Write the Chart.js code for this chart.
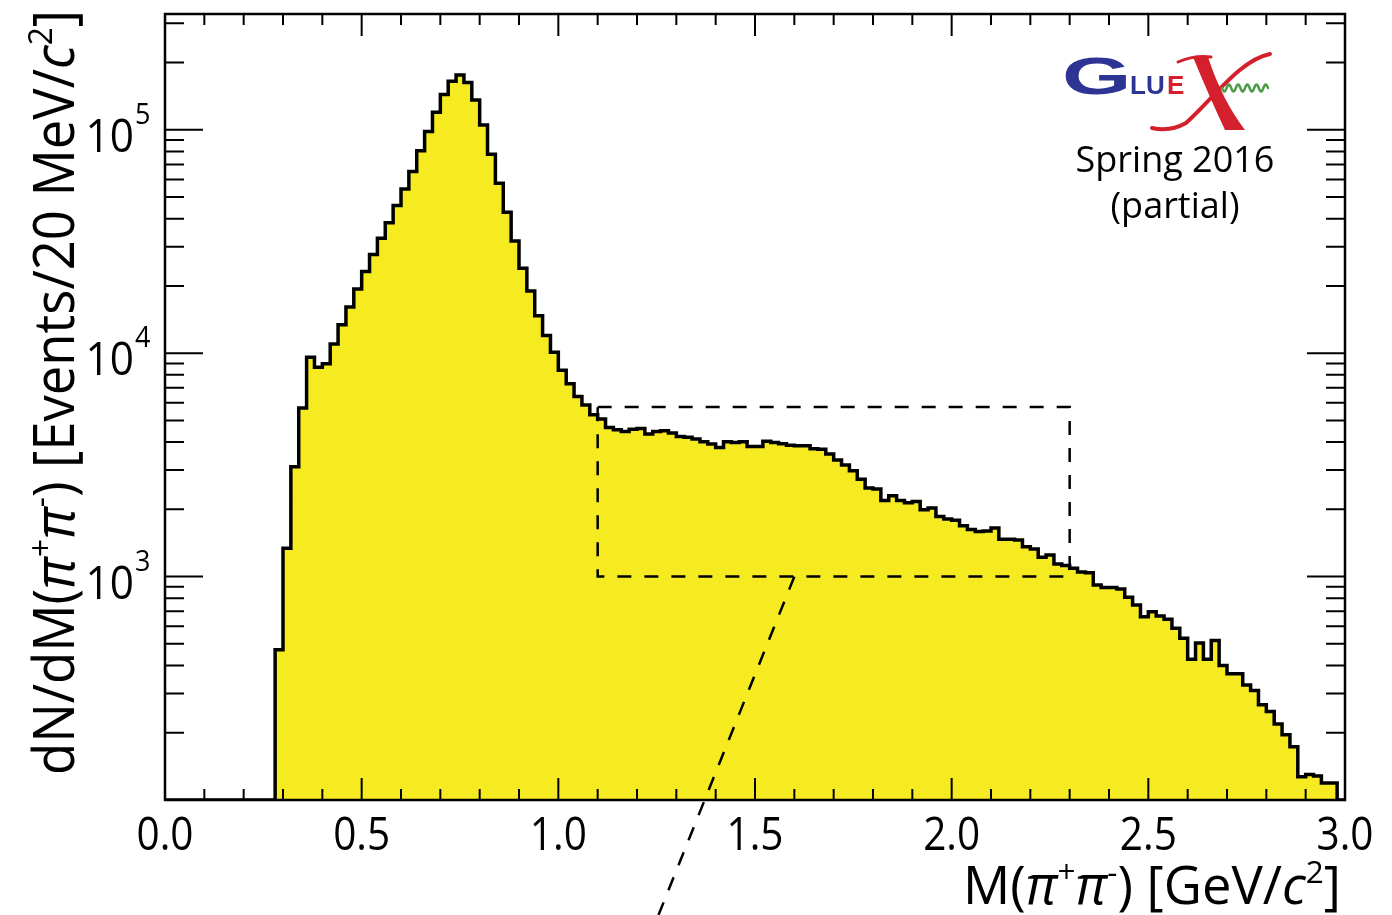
<!DOCTYPE html>
<html>
<head>
<meta charset="utf-8">
<title>M(π+π-) spectrum</title>
<script src="https://cdn.jsdelivr.net/npm/chart.js@4.4.1/dist/chart.umd.min.js"></script>
<style>
  html, body { margin: 0; padding: 0; background: #fff; }
  canvas { display: block; }
</style>
</head>
<body>
<canvas id="massChart" width="1392" height="915"></canvas>
<script>
// pi+ pi- invariant mass, 20 MeV bins from 0 to 3 GeV (150 bins)
const BIN_WIDTH = 0.02;
const counts = [
  0, 0, 0, 0, 0, 0, 0, 0, 0, 0,
  0, 0, 0, 0, 470, 1340, 3100, 5680, 9600, 8650,
  8960, 11000, 13400, 16100, 19400, 23200, 27700, 32700, 38400, 45800,
  54400, 65000, 80500, 98200, 120000, 144000, 165000, 176000, 163000, 136000,
  105000, 77800, 57700, 42800, 31800, 24000, 19000, 14700, 12000, 10100,
  8400, 7300, 6400, 5870, 5300, 5070, 4650, 4540, 4460, 4570,
  4600, 4350, 4460, 4500, 4390, 4240, 4210, 4130, 4020, 3920,
  3780, 4010, 3980, 4010, 3820, 3820, 4040, 3980, 3930, 3870,
  3850, 3850, 3740, 3720, 3540, 3330, 3160, 2980, 2730, 2490,
  2470, 2190, 2300, 2190, 2140, 2170, 1990, 2030, 1860, 1810,
  1790, 1690, 1625, 1590, 1600, 1650, 1470, 1470, 1460, 1360,
  1330, 1220, 1250, 1140, 1120, 1090, 1050, 1040, 918, 893,
  893, 879, 809, 747, 662, 697, 667, 644, 587, 530,
  427, 504, 427, 517, 400, 367, 367, 327, 309, 267,
  249, 219, 196, 173, 127, 130, 128, 119, 119, 0
];

const X_MIN = 0, X_MAX = 3.0;
const Y_MIN = 100, Y_MAX = 3.3e5;

const xMajorTicks = [0, 0.5, 1.0, 1.5, 2.0, 2.5, 3.0];
const xTickLabels = ['0.0', '0.5', '1.0', '1.5', '2.0', '2.5', '3.0'];
const X_MINOR_STEP = 0.1;
const yDecades = [1e3, 1e4, 1e5];
const yExponents = ['3', '4', '5'];

// dashed selection box and the pointer leaving it
const boxX = [1.1, 2.3];
const boxY = [1000, 5750];
const pointerStart = { x: 1.6, y: 1000 };
const pointerAtAxis = { x: 1.372, y: 100 };

const FONT = '"Open Sans", "Noto Sans", sans-serif';
const FILL_YELLOW = '#F5EB20';

// left bin edges + closing point; empty bins sit on the axis floor
const histPoints = counts.map((c, i) => ({ x: i * BIN_WIDTH, y: Math.max(c, Y_MIN) }));
histPoints.push({ x: X_MAX, y: Math.max(counts[counts.length - 1], Y_MIN) });

// draws a run of text pieces (plain / italic / superscript), squeezed to a width if given
function drawRich(ctx, segs, size, x, y, align, width) {
  const parts = segs.map(s => {
    const fs = s.sup ? size * 0.6 : size;
    const font = (s.it ? 'italic ' : '') + fs + 'px ' + FONT;
    ctx.font = font;
    return { text: s.t, font, dy: s.sup ? -size * 0.4 : 0, w: ctx.measureText(s.t).width };
  });
  const natural = parts.reduce((acc, p) => acc + p.w, 0);
  const sx = width ? width / natural : 1;
  ctx.save();
  ctx.translate(x, y);
  ctx.scale(sx, 1);
  let cx = align === 'right' ? -natural : align === 'center' ? -natural / 2 : 0;
  ctx.textAlign = 'left';
  ctx.textBaseline = 'alphabetic';
  for (const p of parts) {
    ctx.font = p.font;
    ctx.fillText(p.text, cx, p.dy);
    cx += p.w;
  }
  ctx.restore();
}

function drawLogo(ctx) {
  const blue = '#2D3494', red = '#D41F2D', green = '#4C9B45';
  ctx.save();
  // G
  ctx.fillStyle = blue;
  ctx.save();
  ctx.translate(1062, 94);
  ctx.scale(1.75, 1);
  ctx.font = 'bold 51px "Liberation Sans", sans-serif';
  ctx.fillText('G', 0, 0);
  ctx.restore();
  ctx.font = 'bold 26px "Liberation Sans", sans-serif';
  ctx.fillText('LU', 1130, 94);
  ctx.fillStyle = red;
  ctx.fillText('E', 1167, 94);

  // X: heavy diagonal
  ctx.beginPath();
  ctx.moveTo(1193, 57);
  ctx.lineTo(1208, 57);
  ctx.quadraticCurveTo(1222, 100, 1245, 130);
  ctx.lineTo(1225, 130);
  ctx.quadraticCurveTo(1209, 96, 1193, 57);
  ctx.fill();
  ctx.strokeStyle = red;
  ctx.lineCap = 'round';
  ctx.lineWidth = 3;
  ctx.beginPath();
  ctx.moveTo(1178, 62);
  ctx.quadraticCurveTo(1194, 55, 1211, 57);
  ctx.stroke();
  // X: thin sweep
  ctx.lineWidth = 4;
  ctx.beginPath();
  ctx.moveTo(1270, 54);
  ctx.bezierCurveTo(1240, 60, 1214, 98, 1186, 123);
  ctx.quadraticCurveTo(1170, 132, 1152, 128);
  ctx.stroke();

  // wavy gluon line
  ctx.strokeStyle = green;
  ctx.lineWidth = 2.5;
  ctx.beginPath();
  for (let px = 1222; px <= 1268; px += 0.5) {
    const py = 88 + 3.5 * Math.sin((px - 1222) / 9.2 * 2 * Math.PI);
    if (px === 1222) ctx.moveTo(px, py); else ctx.lineTo(px, py);
  }
  ctx.stroke();

  ctx.fillStyle = '#000';
  ctx.textAlign = 'center';
  ctx.font = '36px ' + FONT;
  ctx.fillText('Spring 2016', 1175, 172);
  ctx.fillText('(partial)', 1175, 218);
  ctx.restore();
}

const frameAndLabels = {
  id: 'frameAndLabels',
  afterDatasetsDraw(chart) {
    const { ctx, chartArea: a, scales: { x, y } } = chart;
    ctx.save();
    ctx.strokeStyle = '#000';
    ctx.fillStyle = '#000';

    // selection box and pointer
    ctx.setLineDash([14, 13]);
    ctx.lineWidth = 2.5;
    const bx0 = x.getPixelForValue(boxX[0]), bx1 = x.getPixelForValue(boxX[1]);
    const by0 = y.getPixelForValue(boxY[0]), by1 = y.getPixelForValue(boxY[1]);
    ctx.beginPath();
    ctx.moveTo(bx0, by1);
    ctx.lineTo(bx1, by1);
    ctx.lineTo(bx1, by0);
    ctx.lineTo(bx0, by0);
    ctx.closePath();
    ctx.stroke();
    const p0x = x.getPixelForValue(pointerStart.x), p0y = y.getPixelForValue(pointerStart.y);
    const p1x = x.getPixelForValue(pointerAtAxis.x), p1y = y.getPixelForValue(pointerAtAxis.y);
    const t = (chart.height - p0y) / (p1y - p0y);
    ctx.beginPath();
    ctx.moveTo(p0x, p0y);
    ctx.lineTo(p0x + (p1x - p0x) * t, chart.height);
    ctx.stroke();
    ctx.setLineDash([]);

    // inward ticks on all four sides
    ctx.lineWidth = 2;
    ctx.beginPath();
    for (let i = 0; i <= Math.round((X_MAX - X_MIN) / X_MINOR_STEP); i++) {
      const v = X_MIN + i * X_MINOR_STEP;
      const major = xMajorTicks.some(m => Math.abs(m - v) < 1e-6);
      const len = major ? 22 : 11;
      const px = x.getPixelForValue(v);
      ctx.moveTo(px, a.bottom); ctx.lineTo(px, a.bottom - len);
      ctx.moveTo(px, a.top); ctx.lineTo(px, a.top + len);
    }
    for (let d = Y_MIN; d <= Y_MAX; d *= 10) {
      for (let m = 1; m <= 9; m++) {
        const v = m * d;
        if (v <= Y_MIN || v > Y_MAX) continue;
        const len = m === 1 ? 38 : 19;
        const py = y.getPixelForValue(v);
        ctx.moveTo(a.left, py); ctx.lineTo(a.left + len, py);
        ctx.moveTo(a.right, py); ctx.lineTo(a.right - len, py);
      }
    }
    ctx.stroke();

    // frame
    ctx.lineWidth = 2.5;
    ctx.strokeRect(a.left, a.top, a.right - a.left, a.bottom - a.top);

    // x tick labels
    xMajorTicks.forEach((v, i) => {
      drawRich(ctx, [{ t: xTickLabels[i] }], 45, x.getPixelForValue(v), 850, 'center', 57);
    });
    // y tick labels: 10 with exponent
    yDecades.forEach((v, i) => {
      const py = y.getPixelForValue(v);
      ctx.save();
      ctx.textBaseline = 'alphabetic';
      ctx.textAlign = 'right';
      ctx.translate(134, py + 22);
      ctx.scale(0.92, 1);
      ctx.font = '46px ' + FONT;
      ctx.fillText('10', 0, 0);
      ctx.restore();
      ctx.save();
      ctx.textAlign = 'left';
      ctx.font = '30px ' + FONT;
      ctx.translate(135, py - 6);
      ctx.scale(0.9, 1);
      ctx.fillText(yExponents[i], 0, 0);
      ctx.restore();
    });

    // axis titles
    drawRich(ctx, [
      { t: 'M(' }, { t: 'π', it: true }, { t: '+', sup: true }, { t: 'π', it: true }, { t: '-', sup: true },
      { t: ') [GeV/' }, { t: 'c', it: true }, { t: '2', sup: true }, { t: ']' }
    ], 53, 1341, 904, 'right', 378);

    ctx.save();
    ctx.translate(74, a.top);
    ctx.rotate(-Math.PI / 2);
    drawRich(ctx, [
      { t: 'dN/dM(' }, { t: 'π', it: true }, { t: '+', sup: true }, { t: 'π', it: true }, { t: '-', sup: true },
      { t: ') [Events/20 MeV/' }, { t: 'c', it: true }, { t: '2', sup: true }, { t: ']' }
    ], 56, 4, 0, 'right', 765);
    ctx.restore();

    drawLogo(ctx);
    ctx.restore();
  }
};

new Chart(document.getElementById('massChart'), {
  type: 'line',
  data: {
    datasets: [{
      data: histPoints,
      stepped: 'before',
      fill: 'start',
      backgroundColor: FILL_YELLOW,
      borderColor: '#000',
      borderWidth: 3.5,
      pointRadius: 0,
      tension: 0
    }]
  },
  options: {
    responsive: false,
    devicePixelRatio: 1,
    animation: false,
    events: [],
    layout: { padding: { left: 165, right: 47, top: 14, bottom: 115 } },
    scales: {
      x: { type: 'linear', min: X_MIN, max: X_MAX, display: false },
      y: { type: 'logarithmic', min: Y_MIN, max: Y_MAX, display: false }
    },
    plugins: {
      legend: { display: false },
      tooltip: { enabled: false }
    }
  },
  plugins: [frameAndLabels]
});
</script>
</body>
</html>
